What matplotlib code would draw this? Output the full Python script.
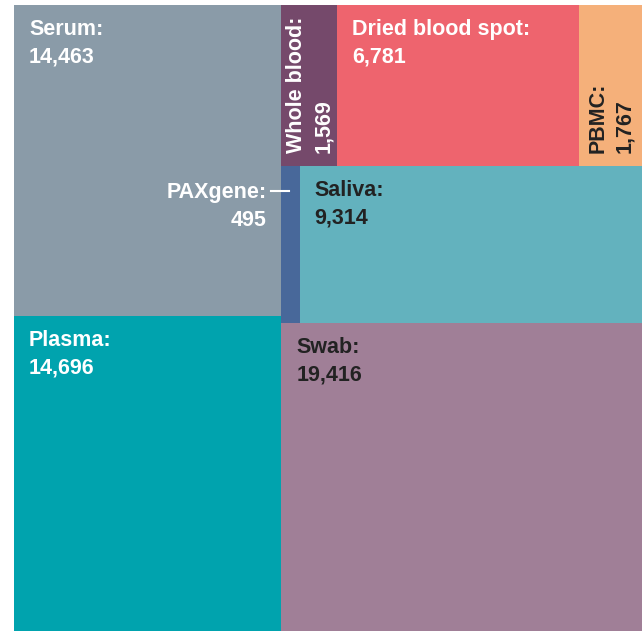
import matplotlib
matplotlib.use("Agg")
import matplotlib.pyplot as plt
from matplotlib.patches import Rectangle

plt.rcParams['font.family'] = ['Liberation Sans', 'DejaVu Sans']

# ---- data ----
names = ["Serum", "Plasma", "Whole blood", "Dried blood spot", "PBMC",
         "PAXgene", "Saliva", "Swab"]
values = [14463, 14696, 1569, 6781, 1767, 495, 9314, 19416]
colors = ["#8A9BA8", "#00A3AE", "#75496B", "#EE646E", "#F5B07A",
          "#48689A", "#63B2BE", "#A07F97"]
text_colors = ["white", "white", "white", "white", "#222222",
               "white", "#222222", "#222222"]
# hierarchical grouping (structure only): columns -> rows -> cells
structure = [
    [["Serum"], ["Plasma"]],
    [["Whole blood", "Dried blood spot", "PBMC"], ["PAXgene", "Saliva"], ["Swab"]],
]

val = dict(zip(names, values))
W, H = 628.0, 628.0

fig = plt.figure(figsize=(6.42, 6.31), dpi=100)
ax = fig.add_axes([14 / 642, -2 / 631, W / 642, H / 631])
ax.set_xlim(0, W)
ax.set_ylim(H, 0)
ax.axis("off")

total = sum(values)
rects = {}
x0 = 0.0
for col in structure:
    col_sum = sum(val[n] for row in col for n in row)
    cw = W * col_sum / total
    y0 = 0.0
    for row in col:
        row_sum = sum(val[n] for n in row)
        rh = H * row_sum / col_sum
        xx = x0
        for n in row:
            w = cw * val[n] / row_sum
            rects[n] = (xx, y0, w, rh)
            xx += w
        y0 += rh
    x0 += cw

fs = 15.5
ls = 1.38
for n, c, tc in zip(names, colors, text_colors):
    x, y, w, h = rects[n]
    ax.add_patch(Rectangle((x, y), w, h, facecolor=c, edgecolor="none"))
    label = f"{n}:\n{val[n]:,}"
    if n in ("Whole blood", "PBMC"):
        ax.text(x + w / 2 + 1, y + h - 13, label, rotation=90, ha="center", va="bottom",
                color=tc, fontsize=fs, fontweight="bold", linespacing=ls,
                multialignment="left")
    elif n == "PAXgene":
        ax.text(x - 15, y + 16, label, ha="right", va="top", color=tc,
                fontsize=fs, fontweight="bold", linespacing=ls, multialignment="right")
        ax.plot([x - 10, x + 8], [y + 25, y + 25], color="white", lw=1.5)
    else:
        pad = 15
        ax.text(x + pad, y + pad - 1, label, ha="left", va="top", color=tc,
                fontsize=fs, fontweight="bold", linespacing=ls)

fig.savefig("out.png", dpi=100)
